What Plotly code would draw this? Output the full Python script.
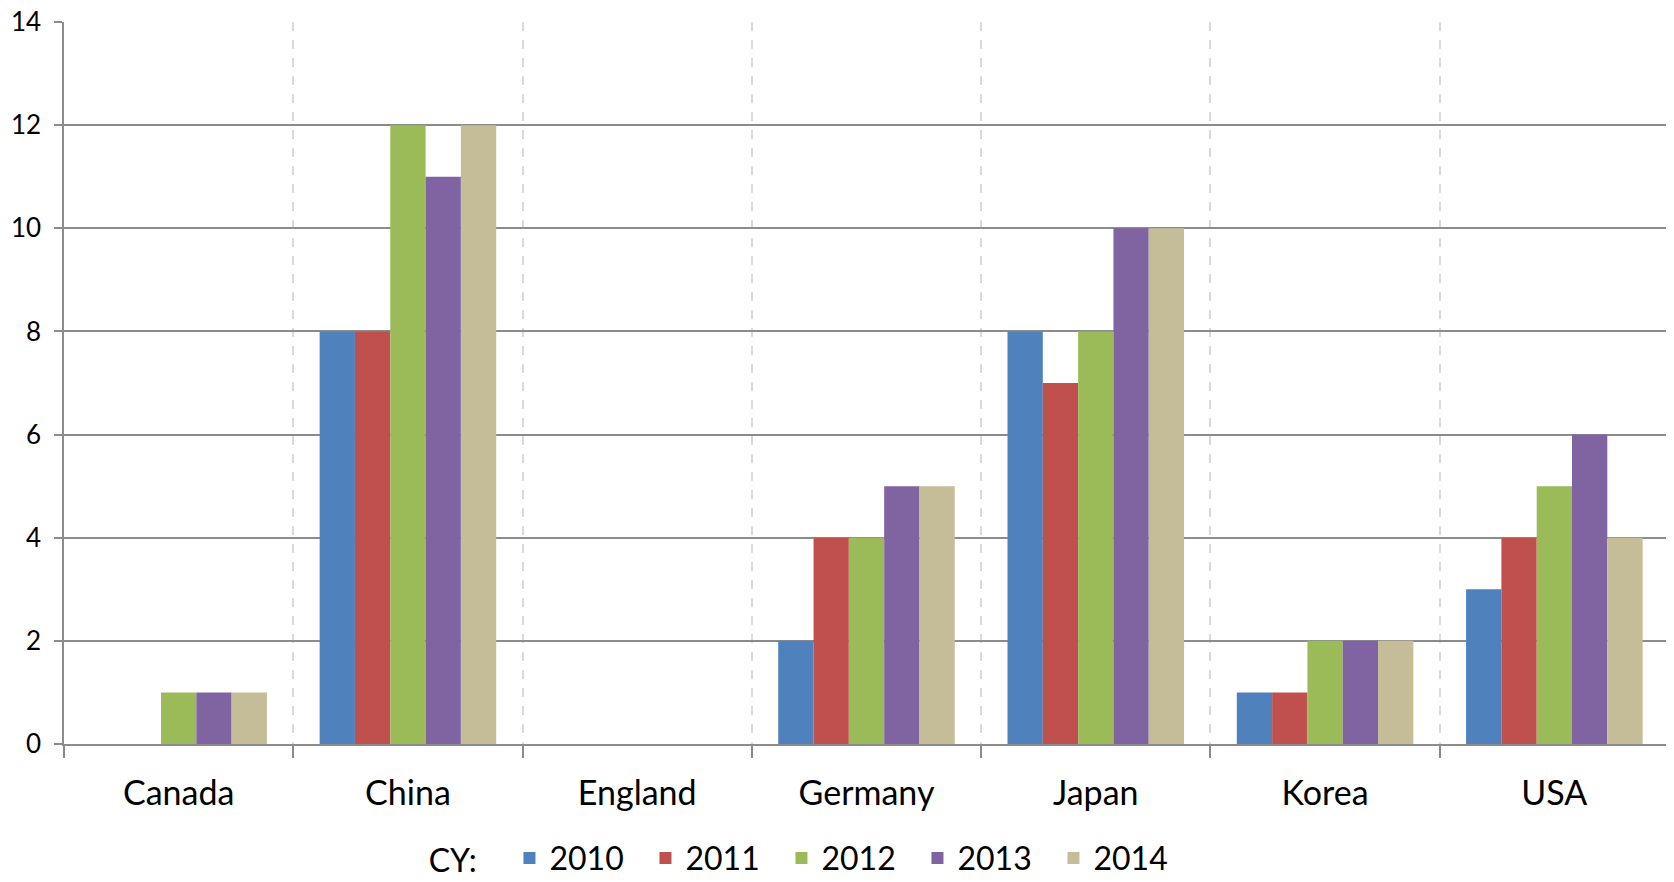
import plotly.graph_objects as go

countries = ["Canada", "China", "England", "Germany", "Japan", "Korea", "USA"]
years = ["2010", "2011", "2012", "2013", "2014"]
v2010 = [0, 8, 0, 2, 8, 1, 3]
v2011 = [0, 8, 0, 4, 7, 1, 4]
v2012 = [1, 12, 0, 4, 8, 2, 5]
v2013 = [1, 11, 0, 5, 10, 2, 6]
v2014 = [1, 12, 0, 5, 10, 2, 4]
series = [v2010, v2011, v2012, v2013, v2014]
colors = ["#4F81BD", "#C0504D", "#9BBB59", "#8064A2", "#C4BD97"]
yticks = [0, 2, 4, 6, 8, 10, 12, 14]

fig = go.Figure()
for name, vals, c in zip(years, series, colors):
    fig.add_trace(go.Bar(x=countries, y=vals, name=name,
                         marker=dict(color=c, line=dict(width=0))))

font = "Lato, 'Open Sans', sans-serif"
fig.update_layout(
    width=1666, height=874,
    margin=dict(l=56, r=5, t=14, b=138, autoexpand=False),
    paper_bgcolor="white", plot_bgcolor="white",
    barmode="group", bargap=0.23, bargroupgap=0,
    font=dict(family=font, color="black"),
    showlegend=True,
    legend=dict(orientation="h", x=0.226, xanchor="left",
                y=-0.158, yanchor="middle",
                font=dict(size=32, family=font),
                title=dict(text="CY:\u00a0\u00a0\u00a0", font=dict(size=32, family=font), side="left"),
                entrywidth=91, entrywidthmode="pixels",
                itemsizing="constant", traceorder="normal"),
)
fig.update_xaxes(
    type="category", tickson="boundaries",
    showgrid=True, gridcolor="#d9d9d9", griddash="dash", gridwidth=1.5,
    showline=True, linecolor="#8c8c8c", linewidth=1.5,
    ticks="outside", ticklen=12, tickwidth=1.5, tickcolor="#8c8c8c",
    tickfont=dict(size=34, family=font), ticklabelstandoff=18, automargin=False,
    ticklabeloverflow="allow",
)
fig.update_yaxes(
    range=[0, 14], tickvals=yticks, ticktext=[str(t) for t in yticks],
    showgrid=True, gridcolor="#8c8c8c", gridwidth=1.5,
    showline=True, linecolor="#8c8c8c", linewidth=1.5,
    ticks="outside", ticklen=8, tickwidth=1.5, tickcolor="#8c8c8c",
    tickfont=dict(size=26, family=font), zeroline=False,
    ticklabelstandoff=8, automargin=False, ticklabeloverflow="allow",
)
fig.write_html("out.html")
